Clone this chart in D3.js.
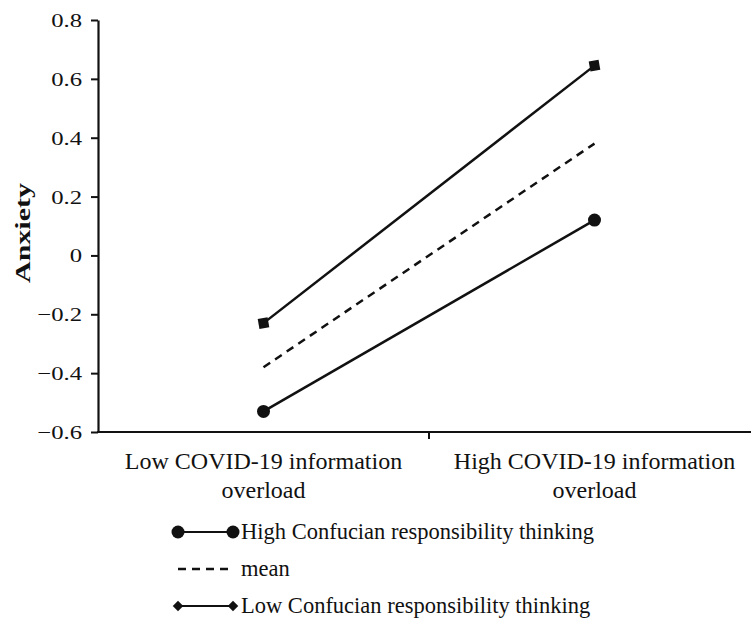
<!DOCTYPE html>
<html><head><meta charset="utf-8">
<script src="https://cdn.jsdelivr.net/npm/d3@7"></script>
<style>body{margin:0;background:#fff}svg{display:block}text{font-family:"Liberation Serif","Times New Roman",serif;fill:#111}</style>
</head><body><svg id="c" width="751" height="623"></svg>
<script>
const categories = ["Low COVID-19 information|overload", "High COVID-19 information|overload"];
const highCRT = [-0.53, 0.12];
const meanVals = [-0.38, 0.38];
const lowCRT = [-0.23, 0.645];
const yTicks = [-0.6, -0.4, -0.2, 0, 0.2, 0.4, 0.6, 0.8];
const legendLabels = ["High Confucian responsibility thinking", "mean", "Low Confucian responsibility thinking"];

const svg = d3.select("#c");
const y = d3.scaleLinear().domain([-0.6, 0.8]).range([432, 20]);
const xBand = d3.scaleBand().domain(categories).range([98, 760]);
const xc = c => xBand(c) + xBand.bandwidth() / 2;
const fmt = v => v === 0 ? "0" : (v < 0 ? "\u2212" + d3.format(".1f")(-v) : d3.format(".1f")(v));

// y axis
const ya = svg.append("g").attr("transform", "translate(98,0)")
  .call(d3.axisLeft(y).tickValues(yTicks).tickFormat(fmt).tickSize(7).tickSizeOuter(0).tickPadding(9));
ya.select(".domain").attr("stroke", "#111").attr("stroke-width", 2.2);
ya.selectAll(".tick line").attr("stroke", "#111").attr("stroke-width", 2);
ya.selectAll(".tick text").style("font-size", "19px").style("font-family", "Liberation Serif").attr("dy", "0.34em")
  .each(function () { const w = this.getComputedTextLength(); d3.select(this).attr("textLength", w * 1.3).attr("lengthAdjust", "spacingAndGlyphs"); });

// x axis line
svg.append("line").attr("x1", 97).attr("x2", 751).attr("y1", y(-0.6)).attr("y2", y(-0.6))
  .attr("stroke", "#111").attr("stroke-width", 2.2);
svg.append("line").attr("x1", xBand(categories[1])).attr("x2", xBand(categories[1]))
  .attr("y1", y(-0.6)).attr("y2", y(-0.6) + 7).attr("stroke", "#111").attr("stroke-width", 2);

// category labels
categories.forEach(c => {
  const parts = c.split("|");
  const t = svg.append("text").attr("text-anchor", "middle").style("font-size", "24px").attr("x", xc(c)).attr("y", 469);
  parts.forEach((p, i) => t.append("tspan").attr("x", xc(c)).attr("dy", i ? 29 : 0).text(p));
});

// y label
svg.append("text").attr("transform", `translate(30,233) rotate(-90)`).attr("text-anchor", "middle")
  .style("font-size", "21px").style("font-weight", "bold").attr("textLength", 100).attr("lengthAdjust", "spacingAndGlyphs").text("Anxiety");

const line = d3.line().x((d, i) => xc(categories[i])).y(d => y(d));
svg.append("path").datum(highCRT).attr("d", line).attr("fill", "none").attr("stroke", "#111").attr("stroke-width", 2.5);
svg.append("path").datum(meanVals).attr("d", line).attr("fill", "none").attr("stroke", "#111").attr("stroke-width", 2.5).attr("stroke-dasharray", "8,6");
svg.append("path").datum(lowCRT).attr("d", line).attr("fill", "none").attr("stroke", "#111").attr("stroke-width", 2.5);

svg.selectAll(".hc").data(highCRT).join("circle").attr("cx", (d, i) => xc(categories[i])).attr("cy", d => y(d)).attr("r", 6.5).attr("fill", "#111");
svg.selectAll(".lc").data(lowCRT).join("rect").attr("x", (d, i) => xc(categories[i]) - 5).attr("y", d => y(d) - 5)
  .attr("width", 10).attr("height", 10).attr("fill", "#111")
  .attr("transform", (d, i) => `rotate(-10,${xc(categories[i])},${y(d)})`);

// legend
const ly = d3.scalePoint().domain(legendLabels).range([532, 606]);
const lx1 = 178, lx2 = 233;
legendLabels.forEach((lab, i) => {
  const yy = ly(lab);
  const l = svg.append("line").attr("x1", lx1).attr("x2", lx2).attr("y1", yy).attr("y2", yy).attr("stroke", "#111").attr("stroke-width", i === 1 ? 2.5 : 2);
  if (i === 1) l.attr("stroke-dasharray", "8,6");
  if (i === 0) { [lx1, lx2].forEach(xx => svg.append("circle").attr("cx", xx).attr("cy", yy).attr("r", 6.5).attr("fill", "#111")); }
  if (i === 2) { [lx1, lx2].forEach(xx => svg.append("path").attr("d", d3.symbol(d3.symbolDiamond2, 70)()).attr("transform", `translate(${xx},${yy})`).attr("fill", "#111")); }
  svg.append("text").attr("x", 241).attr("y", yy + 7).style("font-size", "22.5px").text(lab);
});
</script></body></html>
